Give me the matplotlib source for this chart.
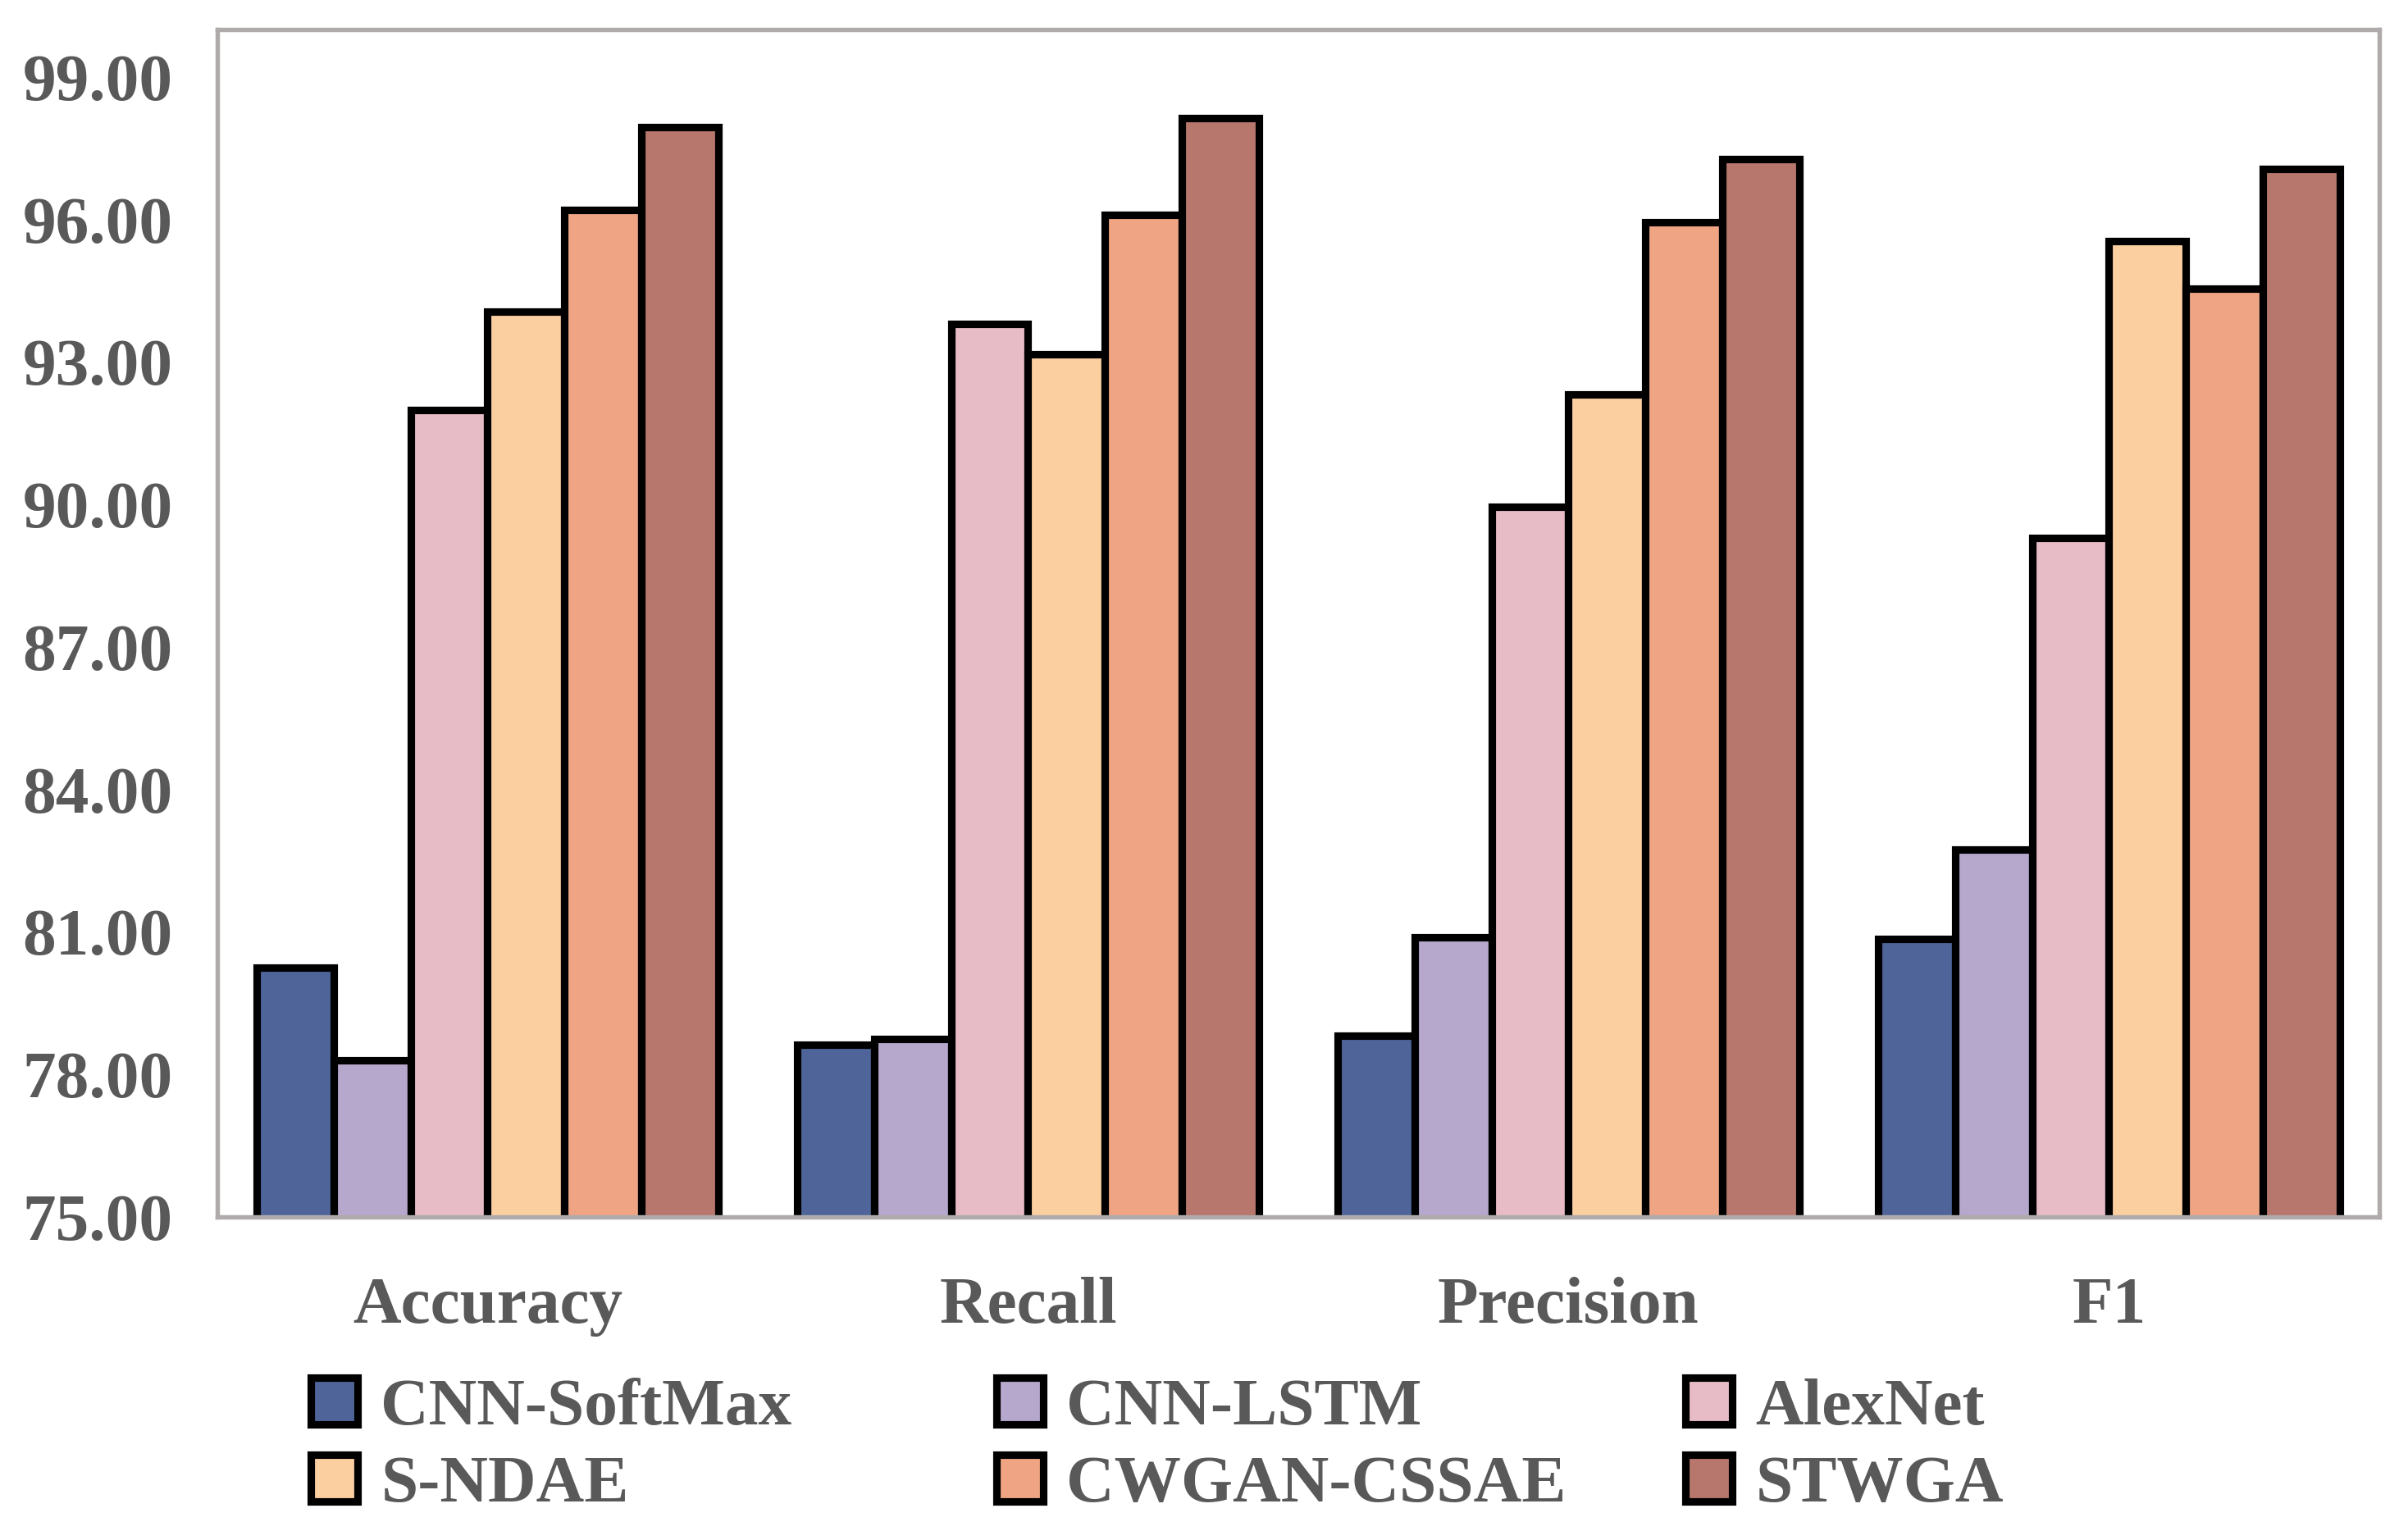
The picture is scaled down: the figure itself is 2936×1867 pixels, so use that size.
import numpy as np
import matplotlib.pyplot as plt

# ====================================
# data
# ====================================
metrics = ['Accuracy', 'Recall', 'Precision', 'F1']
models = ['CNN-SoftMax', 'CNN-LSTM', 'AlexNet', 'S-NDAE', 'CWGAN-CSSAE', 'STWGA']
cnn_softmax = [80.24, 78.62, 78.82, 80.86]
cnn_lstm = [78.30, 78.75, 80.89, 82.73]
alexnet = [91.99, 93.80, 89.95, 89.30]
s_ndae = [94.06, 93.16, 92.31, 95.55]
cwgan_cssae = [96.20, 96.10, 95.94, 94.55]
stwga = [97.94, 98.14, 97.27, 97.07]
yticks = np.arange(75, 100, 3)

series = [cnn_softmax, cnn_lstm, alexnet, s_ndae, cwgan_cssae, stwga]
colors = ['#4F659A', '#B6A8CD', '#E7BCC6', '#FCCFA1', '#EFA584', '#B7776D']
txt_col = '#595959'
fsz = 19.5

plt.rcParams['font.family'] = 'Liberation Serif'
plt.rcParams['font.weight'] = 'bold'

# ====================================
# plot
# ====================================
fig = plt.figure(figsize=(2937/300, 1867/300), dpi=300)
ax = fig.add_axes([265/2937, 1 - 1484/1867, (2901-265)/2937, (1484-36)/1867])

x = np.arange(len(metrics))
bw = 0.1425
bars = []
for i, (vals, cc) in enumerate(zip(series, colors)):
    b = ax.bar(x + (i - 2.5)*bw, vals, width=bw, color=cc, edgecolor='black',
               linewidth=2.2, label=models[i], zorder=2)
    bars.append(b)

ax.set_xlim(-0.5, len(metrics) - 0.5)
ax.set_ylim(75, 100)
ax.set_yticks(yticks)
ax.set_yticklabels(['%.2f' % v for v in yticks])
ax.set_xticks(x)
ax.set_xticklabels(metrics)
ax.tick_params(axis='both', length=0, labelsize=fsz, colors=txt_col)
ax.tick_params(axis='y', pad=13)
ax.tick_params(axis='x', pad=17.5)
for sp in ax.spines.values():
    sp.set_color('#AFABAB')
    sp.set_linewidth(1.3)

# legend: three equal columns
col_x = [379, 1215, 2055]
for j in range(3):
    hh = [bars[j], bars[j + 3]]
    ll = [models[j], models[j + 3]]
    leg = fig.legend(hh, ll, loc='center left',
                     bbox_to_anchor=(col_x[j]/2937, 1 - 1764/1867),
                     frameon=False, fontsize=fsz, borderpad=0, borderaxespad=0,
                     handlelength=0.7, handleheight=0.7, handletextpad=0.35,
                     labelspacing=0.24)
    for t in leg.get_texts():
        t.set_color(txt_col)

fig.savefig('out.png', dpi=300)
